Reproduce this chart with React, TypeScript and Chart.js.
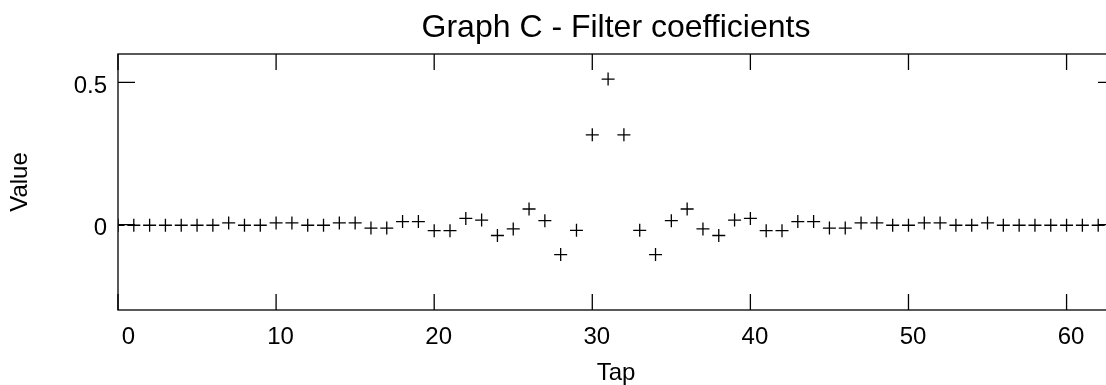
import React, { useEffect, useRef } from "react";
import { Chart, registerables } from "chart.js";

Chart.register(...registerables);

const taps = [
  0, 1, 2, 3, 4, 5, 6, 7, 8, 9, 10, 11, 12, 13, 14, 15, 16, 17, 18, 19, 20,
  21, 22, 23, 24, 25, 26, 27, 28, 29, 30, 31, 32, 33, 34, 35, 36, 37, 38, 39,
  40, 41, 42, 43, 44, 45, 46, 47, 48, 49, 50, 51, 52, 53, 54, 55, 56, 57, 58,
  59, 60, 61, 62,
];

const coefficients = [
  -0.002, -0.002, -0.002, -0.002, -0.002, -0.002, -0.002, 0.006, -0.002,
  -0.002, 0.006, 0.006, -0.002, -0.002, 0.006, 0.006, -0.012, -0.012, 0.011,
  0.011, -0.021, -0.021, 0.022, 0.016, -0.038, -0.015, 0.055, 0.014, -0.105,
  -0.02, 0.316, 0.512, 0.316, -0.02, -0.105, 0.014, 0.055, -0.015, -0.038,
  0.016, 0.022, -0.021, -0.021, 0.011, 0.011, -0.012, -0.012, 0.006, 0.006,
  -0.002, -0.002, 0.006, 0.006, -0.002, -0.002, 0.006, -0.002, -0.002,
  -0.002, -0.002, -0.002, -0.002, -0.002,
];

const xTickValues = [0, 10, 20, 30, 40, 50, 60];
const yTickValues = [0, 0.5];

const FONT = "'Liberation Sans', Arial, Helvetica, sans-serif";

const framePlugin = {
  id: "frame",
  afterDraw(chart: any) {
    const { ctx, chartArea: a, scales } = chart;
    const x = scales.x;
    const y = scales.y;
    ctx.save();
    ctx.strokeStyle = "#000";
    ctx.lineWidth = 1.3;
    ctx.strokeRect(a.left, a.top, a.right - a.left, a.bottom - a.top);
    ctx.beginPath();
    x.ticks.forEach((t: any) => {
      const px = x.getPixelForValue(t.value);
      ctx.moveTo(px, a.bottom);
      ctx.lineTo(px, a.bottom - 16);
      ctx.moveTo(px, a.top);
      ctx.lineTo(px, a.top + 16);
    });
    y.ticks.forEach((t: any) => {
      const py = y.getPixelForValue(t.value);
      ctx.moveTo(a.left, py);
      ctx.lineTo(a.left + 17, py);
      ctx.moveTo(a.right, py);
      ctx.lineTo(a.right - 16, py);
    });
    ctx.stroke();
    ctx.restore();
  },
};

export default function App() {
  const canvasRef = useRef<HTMLCanvasElement | null>(null);

  useEffect(() => {
    const canvas = canvasRef.current;
    if (!canvas) return;
    const tickFont = { family: FONT, size: 24, weight: "normal" as const };
    const chart = new Chart(canvas, {
      type: "scatter",
      data: {
        datasets: [
          {
            label: "Coefficients",
            data: taps.map((t, i) => ({ x: t, y: coefficients[i] })),
            pointStyle: "cross",
            pointRadius: 6.5,
            pointHoverRadius: 6.5,
            pointBorderWidth: 1.3,
            borderColor: "#000",
            backgroundColor: "#000",
            showLine: false,
          },
        ],
      },
      plugins: [framePlugin],
      options: {
        responsive: false,
        devicePixelRatio: 1,
        animation: false,
        events: [],
        layout: { padding: 0, autoPadding: false },
        plugins: {
          legend: { display: false },
          tooltip: { enabled: false },
          title: {
            display: true,
            text: "Graph C - Filter coefficients",
            color: "#000",
            fullSize: false,
            font: { family: FONT, size: 32, weight: "normal" },
            padding: { top: 9, bottom: 6.6 },
          },
        },
        scales: {
          x: {
            type: "linear",
            position: "bottom",
            min: 0,
            max: 63,
            grid: { display: false, drawTicks: false },
            border: { display: false },
            afterBuildTicks: (s: any) => {
              s.ticks = xTickValues.map((v) => ({ value: v }));
            },
            afterFit: (s: any) => {
              s.height = 75;
              s.paddingLeft = 0;
              s.paddingRight = 0;
            },
            ticks: {
              color: "#000",
              font: tickFont,
              padding: 13,
              maxRotation: 0,
              autoSkip: false,
              labelOffset: 4.5,
              callback: (v: any) => (v === 0 ? "\u20020" : String(v)),
            },
            title: {
              display: true,
              text: "Tap",
              color: "#000",
              font: tickFont,
              padding: { top: 0, bottom: -3 },
            },
          },
          y: {
            type: "linear",
            position: "left",
            min: -0.3,
            max: 0.6,
            grid: { display: false, drawTicks: false },
            border: { display: false },
            afterBuildTicks: (s: any) => {
              s.ticks = yTickValues.map((v) => ({ value: v }));
            },
            afterFit: (s: any) => {
              s.width = 118;
              s.paddingTop = 0;
              s.paddingBottom = 0;
            },
            ticks: {
              color: "#000",
              font: tickFont,
              padding: 11,
              labelOffset: 3.5,
              autoSkip: false,
              callback: (v: any) => String(v),
            },
            title: {
              display: true,
              text: "Value",
              color: "#000",
              font: tickFont,
              padding: { top: 5.6, bottom: 0 },
            },
          },
        },
      },
    });
    return () => chart.destroy();
  }, []);

  return (
    <div
      style={{
        position: "fixed",
        left: 0,
        top: 0,
        width: 1106,
        height: 385,
        overflow: "hidden",
        background: "#fff",
      }}
    >
      <canvas
        ref={canvasRef}
        width={1114}
        height={385}
        style={{ display: "block", width: 1114, height: 385 }}
      />
    </div>
  );
}
